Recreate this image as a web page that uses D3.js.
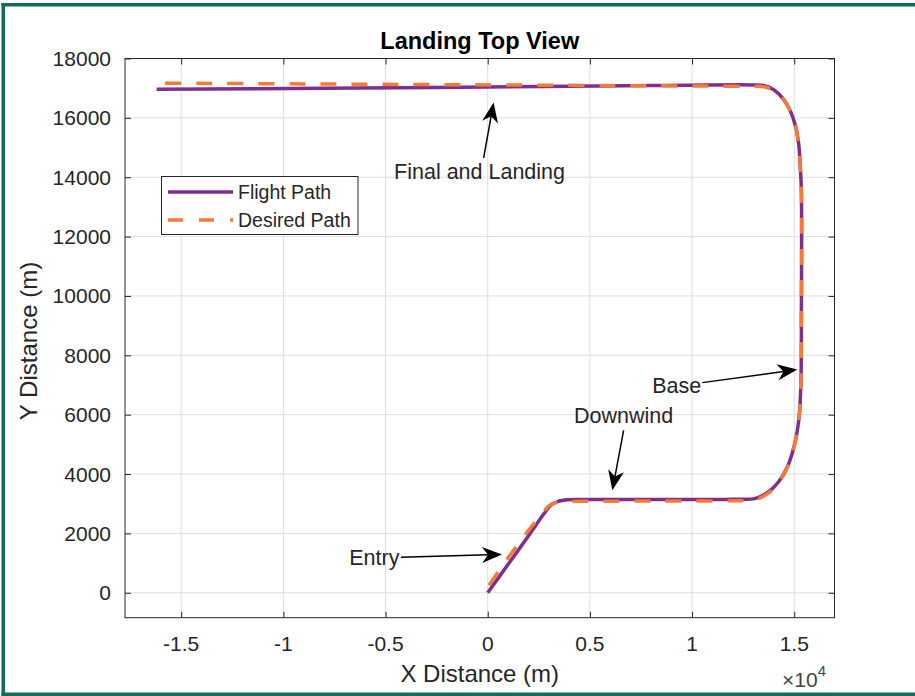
<!DOCTYPE html>
<html>
<head>
<meta charset="utf-8">
<script src="https://cdn.jsdelivr.net/npm/d3@7"></script>
<style>
  body { margin: 0; background: #ffffff; }
  svg { display: block; font-family: "Liberation Sans", Arial, sans-serif; }
</style>
</head>
<body>
<div id="chart"></div>
<script>
// Flight path (metres)
var flightX = [0, 1000, 2000, 2750, 3100, 3450, 3900, 4600, 8000, 12000, 13100, 13700, 14250, 14700, 15050, 15250, 15330, 15350, 15350, 15300, 15220, 15050, 14800, 14450, 14000, 13500, 13000, 8000, 0, -8000, -16200];
var flightY = [0, 960, 1920, 2660, 2960, 3080, 3130, 3140, 3140, 3150, 3180, 3380, 3750, 4300, 5100, 6000, 7200, 9500, 13500, 14300, 15100, 15750, 16250, 16650, 16950, 17090, 17110, 17090, 17040, 17000, 16960];

// Desired path (metres)
var desiredX = [60, 1000, 2000, 2700, 3050, 3450, 3950, 4600, 8000, 12000, 13100, 13700, 14250, 14700, 15050, 15250, 15330, 15350, 15350, 15300, 15220, 15050, 14800, 14450, 14000, 13500, 13000, 8000, 0, -8000, -16200];
var desiredY = [250, 1180, 2100, 2700, 2960, 3050, 3075, 3080, 3090, 3100, 3140, 3340, 3720, 4280, 5080, 6000, 7200, 9500, 13500, 14300, 15100, 15750, 16250, 16640, 16920, 17050, 17060, 17080, 17110, 17140, 17170];

// Axis ticks
var xTicks = [-15000, -10000, -5000, 0, 5000, 10000, 15000];
var xTickLabels = ["-1.5", "-1", "-0.5", "0", "0.5", "1", "1.5"];
var yTicks = [0, 2000, 4000, 6000, 8000, 10000, 12000, 14000, 16000, 18000];

// Annotations: label centre and arrow tail/head (metres)
var noteText = ["Final and Landing", "Base", "Downwind", "Entry"];
var noteX = [-400, 9250, 6650, -5550];
var noteY = [14180, 6980, 5960, 1200];
var arrowX1 = [-200, 10500, 6650, -4250];
var arrowY1 = [14650, 7080, 5470, 1200];
var arrowX2 = [290, 15150, 6100, 700];
var arrowY2 = [16520, 7520, 3450, 1290];

var legendNames = ["Flight Path", "Desired Path"];

var purple = "#7e2f8e";
var orange = "#f47a3a";
var ink = "#262626";

var width = 915;
var height = 696;
var plotLeft = 125;
var plotRight = 834.5;
var plotTop = 58.5;
var plotBottom = 617.7;

var svg = d3.select("#chart").append("svg")
  .attr("width", width)
  .attr("height", height);

svg.append("rect").attr("width", width).attr("height", height).attr("fill", "#ffffff");

// Green frame (left, top, bottom)
var frame = "#0f6b5a";
svg.append("rect").attr("x", 1.5).attr("y", 3).attr("width", 3.5).attr("height", 693).attr("fill", frame);
svg.append("rect").attr("x", 1.5).attr("y", 3).attr("width", width).attr("height", 3.5).attr("fill", frame);
svg.append("rect").attr("x", 1.5).attr("y", 692.5).attr("width", width).attr("height", 3.5).attr("fill", frame);

var xScale = d3.scaleLinear().domain([-17750, 16970]).range([plotLeft, plotRight]);
var yScale = d3.scaleLinear().domain([-840, 18000]).range([plotBottom, plotTop]);

// Grid lines
var grid = svg.append("g").attr("stroke", "#dedede").attr("stroke-width", 1);
xTicks.forEach(function(t) {
  grid.append("line")
    .attr("x1", xScale(t)).attr("x2", xScale(t))
    .attr("y1", plotTop).attr("y2", plotBottom);
});
yTicks.forEach(function(t) {
  grid.append("line")
    .attr("x1", plotLeft).attr("x2", plotRight)
    .attr("y1", yScale(t)).attr("y2", yScale(t));
});

// Paths
var flightData = flightX.map(function(x, i) { return [x, flightY[i]]; });
var desiredData = desiredX.map(function(x, i) { return [x, desiredY[i]]; });

var line = d3.line()
  .x(function(d) { return xScale(d[0]); })
  .y(function(d) { return yScale(d[1]); })
  .curve(d3.curveCatmullRom.alpha(0.5));

svg.append("path")
  .datum(flightData)
  .attr("d", line)
  .attr("fill", "none")
  .attr("stroke", purple)
  .attr("stroke-width", 3.5)
  .attr("stroke-linejoin", "round");

svg.append("path")
  .datum(desiredData)
  .attr("d", line)
  .attr("fill", "none")
  .attr("stroke", orange)
  .attr("stroke-width", 3.5)
  .attr("stroke-dasharray", "16,15");

// Axes box with inward ticks
var xAxisBottom = d3.axisBottom(xScale).tickValues(xTicks).tickSize(-6).tickFormat("");
var xAxisTop = d3.axisTop(xScale).tickValues(xTicks).tickSize(-6).tickFormat("");
var yAxisLeft = d3.axisLeft(yScale).tickValues(yTicks).tickSize(-6).tickFormat("");
var yAxisRight = d3.axisRight(yScale).tickValues(yTicks).tickSize(-6).tickFormat("");

function styleAxis(g) {
  g.selectAll("path").remove();
  g.selectAll("line").attr("stroke", ink);
}
svg.append("g").attr("transform", "translate(0," + plotBottom + ")").call(xAxisBottom).call(styleAxis);
svg.append("g").attr("transform", "translate(0," + plotTop + ")").call(xAxisTop).call(styleAxis);
svg.append("g").attr("transform", "translate(" + plotLeft + ",0)").call(yAxisLeft).call(styleAxis);
svg.append("g").attr("transform", "translate(" + plotRight + ",0)").call(yAxisRight).call(styleAxis);

svg.append("rect")
  .attr("x", plotLeft).attr("y", plotTop)
  .attr("width", plotRight - plotLeft).attr("height", plotBottom - plotTop)
  .attr("fill", "none").attr("stroke", ink).attr("stroke-width", 1);

// Tick labels
xTicks.forEach(function(t, i) {
  svg.append("text")
    .attr("x", xScale(t)).attr("y", 651)
    .attr("text-anchor", "middle")
    .attr("font-size", "21px")
    .attr("fill", ink)
    .text(xTickLabels[i]);
});
yTicks.forEach(function(t) {
  svg.append("text")
    .attr("x", 111).attr("y", yScale(t) + 7.5)
    .attr("text-anchor", "end")
    .attr("font-size", "21px")
    .attr("fill", ink)
    .text(t);
});

// Exponent label
var expo = svg.append("text").attr("x", 782).attr("y", 687).attr("font-size", "21px").attr("fill", "#444444");
expo.append("tspan").text("\u00d710");
expo.append("tspan").attr("dy", -11).attr("font-size", "15px").text("4");

// Axis titles
svg.append("text")
  .attr("x", (plotLeft + plotRight) / 2).attr("y", 682)
  .attr("text-anchor", "middle")
  .attr("font-size", "24px")
  .attr("fill", ink)
  .text("X Distance (m)");

svg.append("text")
  .attr("transform", "translate(37,341) rotate(-90)")
  .attr("text-anchor", "middle")
  .attr("font-size", "24px")
  .attr("fill", ink)
  .text("Y Distance (m)");

svg.append("text")
  .attr("x", (plotLeft + plotRight) / 2).attr("y", 48.5)
  .attr("text-anchor", "middle")
  .attr("font-size", "23.5px")
  .attr("font-weight", "bold")
  .attr("fill", "#000000")
  .text("Landing Top View");

// Annotation arrows
function drawArrow(x1, y1, x2, y2) {
  var dx = x2 - x1, dy = y2 - y1;
  var len = Math.sqrt(dx * dx + dy * dy);
  var ux = dx / len, uy = dy / len;
  var px = -uy, py = ux;
  var headLen = 20, headHalf = 8, notch = 6;
  var bx = x2 - ux * headLen, by = y2 - uy * headLen;
  var nx = x2 - ux * (headLen - notch), ny = y2 - uy * (headLen - notch);
  svg.append("line")
    .attr("x1", x1).attr("y1", y1).attr("x2", nx).attr("y2", ny)
    .attr("stroke", "#000000").attr("stroke-width", 1.5);
  var pts = [[x2, y2], [bx + px * headHalf, by + py * headHalf], [nx, ny], [bx - px * headHalf, by - py * headHalf]];
  svg.append("path")
    .attr("d", "M" + pts.map(function(p) { return p[0] + "," + p[1]; }).join("L") + "Z")
    .attr("fill", "#000000");
}

noteText.forEach(function(txt, i) {
  drawArrow(xScale(arrowX1[i]), yScale(arrowY1[i]), xScale(arrowX2[i]), yScale(arrowY2[i]));
  svg.append("text")
    .attr("x", xScale(noteX[i])).attr("y", yScale(noteY[i]) + 7.5)
    .attr("text-anchor", "middle")
    .attr("font-size", "21.5px")
    .attr("fill", ink)
    .text(txt);
});

// Legend
var legend = svg.append("g");
legend.append("rect")
  .attr("x", 161.5).attr("y", 176.5).attr("width", 196.5).attr("height", 58)
  .attr("fill", "#ffffff").attr("stroke", ink).attr("stroke-width", 1);
legendNames.forEach(function(name, i) {
  var ly = 192 + i * 28;
  legend.append("line")
    .attr("x1", 168).attr("x2", 233).attr("y1", ly).attr("y2", ly)
    .attr("stroke", i === 0 ? purple : orange)
    .attr("stroke-width", 3.5)
    .attr("stroke-dasharray", i === 0 ? null : "15,16");
  legend.append("text")
    .attr("x", 238).attr("y", ly + 7)
    .attr("font-size", "19.5px")
    .attr("fill", ink)
    .text(name);
});
</script>
</body>
</html>
